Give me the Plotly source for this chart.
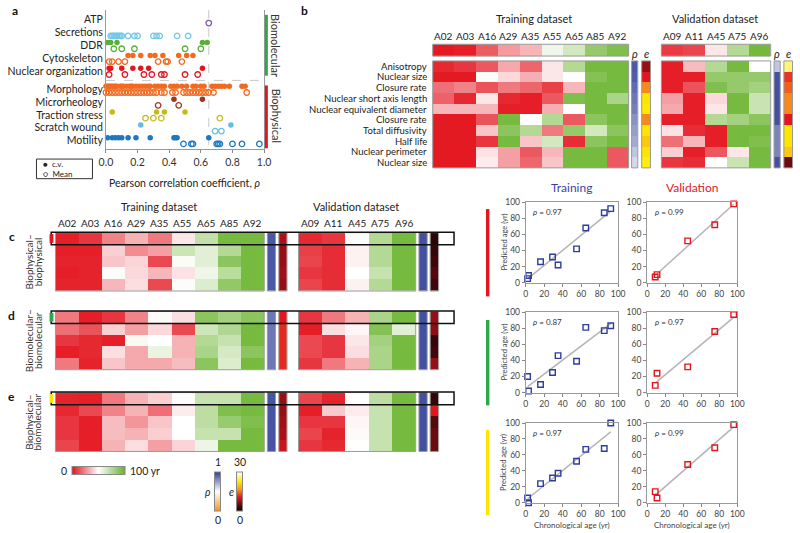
import numpy as np
import plotly.graph_objects as go

FONT = "Lato"
W, H = 800, 533

# ---------------- Panel a data ----------------
a_categories = ["ATP", "Secretions", "DDR", "Cytoskeleton", "Nuclear organization",
                "Morphology", "Microrheology", "Traction stress", "Scratch wound", "Motility"]
a_colors = ["#7e57a6", "#74c7e8", "#5aae3a", "#f26a1f", "#e3151f",
            "#f26a1f", "#a0361e", "#c6b91c", "#62bde5", "#1b78c2"]
cv_atp = []
mean_atp = [0.65]
cv_secretions = []
mean_secretions = [0.03, 0.04, 0.05, 0.06, 0.07, 0.08, 0.09, 0.10, 0.14, 0.18, 0.20, 0.30, 0.32, 0.34, 0.45, 0.52]
cv_ddr = [0.01, 0.03, 0.07, 0.61, 0.64]
mean_ddr = [0.05, 0.10, 0.18, 0.50, 0.60]
cv_cytoskeleton = [0.14, 0.17, 0.22, 0.28, 0.31, 0.36, 0.46, 0.51, 0.55]
mean_cytoskeleton = [0.02, 0.04, 0.08, 0.12, 0.33, 0.38, 0.39, 0.48]
cv_nuclear_org = [0.02, 0.03, 0.10, 0.17, 0.22, 0.27, 0.61]
mean_nuclear_org = [0.02, 0.12, 0.24, 0.29, 0.35, 0.37, 0.50, 0.58]
cv_morphology = [0.00, 0.01, 0.02, 0.03, 0.04, 0.05, 0.06, 0.07, 0.09, 0.10, 0.11, 0.13, 0.15, 0.16,
                 0.17, 0.19, 0.21, 0.23, 0.25, 0.27, 0.28, 0.31, 0.33, 0.35, 0.37, 0.41, 0.43, 0.45,
                 0.48, 0.51, 0.55, 0.57, 0.60, 0.62, 0.67, 0.69, 0.71, 0.73, 0.75, 0.78, 0.86, 0.88]
mean_morphology = [0.00, 0.02, 0.04, 0.06, 0.08, 0.10, 0.12, 0.14, 0.16, 0.18, 0.20, 0.22, 0.24, 0.26,
                   0.28, 0.30, 0.32, 0.35, 0.37, 0.42, 0.44, 0.49, 0.51, 0.53, 0.55, 0.57, 0.59, 0.61,
                   0.63, 0.65, 0.68, 0.89]
cv_microrheology = [0.43, 0.61]
mean_microrheology = [0.33, 0.46]
cv_traction = [0.04, 0.32, 0.37, 0.50]
mean_traction = [0.25, 0.30, 0.35, 0.72]
cv_scratch = [0.22, 0.79]
mean_scratch = [0.69, 0.73]
cv_motility = [0.01, 0.04, 0.06, 0.08, 0.10, 0.14, 0.19, 0.28, 0.43, 0.44, 0.45, 0.65]
mean_motility = [0.49, 0.54, 0.55, 0.70, 0.71, 0.72, 0.80, 0.86, 0.97]

a_cv = [cv_atp, cv_secretions, cv_ddr, cv_cytoskeleton, cv_nuclear_org,
        cv_morphology, cv_microrheology, cv_traction, cv_scratch, cv_motility]
a_mean = [mean_atp, mean_secretions, mean_ddr, mean_cytoskeleton, mean_nuclear_org,
          mean_morphology, mean_microrheology, mean_traction, mean_scratch, mean_motility]
a_row_pos = [0, 1, 2, 3, 4, 5.4, 6.4, 7.4, 8.4, 9.4]

# ---------------- Heatmap data (predicted ages, yr) ----------------
train_labels = ["A02", "A03", "A16", "A29", "A35", "A55", "A65", "A85", "A92"]
train_ages = [2, 3, 16, 29, 35, 55, 65, 85, 92]
val_labels = ["A09", "A11", "A45", "A75", "A96"]
val_ages = [9, 11, 45, 75, 96]

b_features = ["Anisotropy", "Nuclear size", "Closure rate", "Nuclear short axis length",
              "Nuclear equivalent diameter", "Closure rate", "Total diffusivity", "Half life",
              "Nuclear perimeter", "Nuclear size"]
b_train = [
    [5, 8, 15, 32, 18, 45, 75, 95, 95],
    [2, 2, 52, 42, 33, 45, 50, 90, 95],
    [20, 24, 14, 22, 18, 10, 35, 95, 95],
    [17, 5, 45, 5, 3, 15, 92, 95, 78],
    [35, 35, 35, 3, 3, 33, 50, 95, 95],
    [2, 2, 14, 95, 50, 75, 15, 88, 95],
    [2, 2, 38, 88, 75, 22, 85, 65, 88],
    [2, 2, 8, 95, 38, 65, 6, 88, 95],
    [2, 2, 44, 30, 15, 35, 95, 95, 15],
    [2, 2, 46, 30, 18, 38, 95, 95, 15],
]
b_val = [
    [3, 36, 75, 95, 50],
    [3, 3, 85, 85, 85],
    [3, 14, 92, 85, 80],
    [30, 3, 42, 95, 68],
    [32, 3, 45, 95, 68],
    [3, 3, 75, 80, 88],
    [44, 6, 3, 95, 95],
    [20, 35, 3, 95, 92],
    [40, 3, 15, 45, 95],
    [8, 6, 50, 68, 95],
]
b_rho_train = [0.93, 0.92, 0.88, 0.85, 0.83, 0.78, 0.75, 0.72, 0.65, 0.60]
b_e_train = [7, 10.5, 16, 22, 22.5, 16, 22, 20, 22, 23]
b_rho_val = [0.65, 0.95, 0.95, 0.95, 0.95, 0.95, 0.82, 0.82, 0.82, 0.95]
b_e_val = [26, 12, 14, 16, 16, 10.5, 22, 22, 20, 5]

c_train = [
    [3, 8, 24, 34, 22, 45, 70, 95, 95],
    [3, 3, 40, 26, 30, 67, 60, 75, 95],
    [4, 4, 38, 41, 12, 52, 60, 88, 95],
    [3, 4, 51, 42, 35, 44, 55, 73, 95],
    [4, 4, 35, 43, 12, 51, 62, 86, 95],
]
c_val = [
    [5, 8, 51, 75, 95],
    [10, 6, 47, 75, 95],
    [11, 6, 47, 75, 95],
    [8, 6, 50, 69, 95],
    [11, 6, 47, 75, 95],
]
c_rho_train = [0.93, 0.93, 0.93, 0.93, 0.93]
c_e_train = [8, 7, 7, 7.5, 7]
c_rho_val = [0.95, 0.95, 0.95, 0.95, 0.95]
c_e_val = [2, 2.5, 3, 4, 3]

d_train = [
    [22, 3, 8, 24, 49, 43, 88, 80, 88],
    [20, 14, 40, 30, 42, 12, 66, 76, 95],
    [8, 5, 3, 53, 50, 34, 75, 69, 95],
    [3, 5, 43, 32, 57, 34, 78, 64, 88],
    [22, 4, 38, 32, 32, 36, 88, 62, 95],
]
d_val = [
    [8, 22, 34, 78, 95],
    [3, 43, 48, 90, 60],
    [12, 8, 45, 80, 95],
    [12, 8, 43, 78, 95],
    [8, 22, 34, 78, 95],
]
d_rho_train = [0.85, 0.85, 0.85, 0.85, 0.85]
d_e_train = [10.5, 11.5, 11.5, 11.5, 11.5]
d_rho_val = [0.95, 0.95, 0.95, 0.95, 0.95]
d_e_val = [7, 6.5, 2.5, 3, 7]

e_train = [
    [4, 3, 22, 34, 40, 51, 69, 69, 95],
    [5, 12, 24, 34, 20, 46, 72, 92, 95],
    [8, 3, 36, 28, 38, 50, 72, 84, 92],
    [8, 3, 36, 34, 40, 50, 69, 69, 95],
    [11, 3, 34, 43, 30, 41, 56, 95, 95],
]
e_val = [
    [11, 4, 50, 72, 95],
    [3, 39, 46, 69, 95],
    [8, 8, 48, 69, 95],
    [11, 4, 49, 69, 95],
    [8, 5, 50, 69, 95],
]
e_rho_train = [0.94, 0.94, 0.94, 0.94, 0.94]
e_e_train = [7, 7, 7.5, 8, 9.5]
e_rho_val = [0.95, 0.95, 0.95, 0.95, 0.95]
e_e_val = [2.5, 10.5, 4, 5, 5]

# ---------------- Scatter data ----------------
train_chrono = [2, 3, 16, 29, 35, 55, 65, 85, 92]
val_chrono = [9, 11, 45, 75, 96]
c_train_pred = [5, 9, 26, 32, 22, 42, 68, 87, 92]
c_val_pred = [7, 10, 52, 72, 98]
d_train_pred = [20, 2, 10, 25, 46, 39, 81, 77, 83]
d_val_pred = [9, 24, 32, 76, 97]
e_train_pred = [6, 0, 24, 31, 37, 52, 67, 68, 100]
e_val_pred = [14, 6, 48, 69, 98]
rho_train_text = ["0.97", "0.87", "0.97"]
rho_val_text = ["0.99", "0.97", "0.99"]

# ---------------- Styles ----------------
AGE_CS = [[0, "#e3101a"], [0.5, "#ffffff"], [1, "#68b22b"]]
RHO_CS = [[0, "#f7941d"], [0.5, "#ffffff"], [1, "#2e3d96"]]
E_CS = [[0, "#000000"], [0.35, "#e3151f"], [0.55, "#f7941d"], [0.75, "#ffeb00"], [1, "#ffffff"]]
BORDER = "#9a9a9a"
BLUE = "#2f3d9c"
RED = "#e3151f"

fig = go.Figure()
shapes = []
annotations = []


def txt(x, y, s, size=10, color="#222", xanchor="center", yanchor="middle", angle=0,
        xref="x", yref="y", bold=False, align="center"):
    if bold:
        s = "<b>" + s + "</b>"
    annotations.append(dict(x=x, y=y, xref=xref, yref=yref, text=s, showarrow=False,
                            font=dict(family=FONT, size=size, color=color),
                            xanchor=xanchor, yanchor=yanchor, textangle=angle,
                            borderpad=0, align=align))


def rect(x0, y0, x1, y1, line="#9a9a9a", width=1, fill=None, xref="x", yref="y"):
    d = dict(type="rect", x0=x0, y0=y0, x1=x1, y1=y1, xref=xref, yref=yref,
             line=dict(color=line, width=width))
    if fill:
        d["fillcolor"] = fill
        d["line"] = dict(width=0)
    shapes.append(d)


def hm(z, x_left, x_right, y_top, y_bottom, cs, zmin, zmax, border=True, colorbar=None):
    z = np.asarray(z, dtype=float)
    nrows, ncols = z.shape
    dx = (x_right - x_left) / ncols
    dy = (y_bottom - y_top) / nrows
    fig.add_trace(go.Heatmap(z=z, x0=x_left + dx / 2, dx=dx, y0=y_top + dy / 2, dy=dy,
                             colorscale=cs, zmin=zmin, zmax=zmax,
                             showscale=colorbar is not None,
                             colorbar=colorbar if colorbar is not None else {},
                             xaxis="x", yaxis="y", hoverinfo="skip"))
    if border:
        rect(x_left, y_top, x_right, y_bottom, line=BORDER, width=1)


def col(v):
    return [[x] for x in v]


# ---------------- Panel a ----------------
for i, cat in enumerate(a_categories):
    cv = a_cv[i]
    mn = a_mean[i]
    if cv:
        fig.add_trace(go.Scatter(x=cv, y=[a_row_pos[i] - 0.22] * len(cv), mode="markers",
                                 marker=dict(symbol="circle", size=5.5, color=a_colors[i],
                                             line=dict(width=0)),
                                 xaxis="x2", yaxis="y2", cliponaxis=False, hoverinfo="skip"))
    if mn:
        fig.add_trace(go.Scatter(x=mn, y=[a_row_pos[i] + 0.26] * len(mn), mode="markers",
                                 marker=dict(symbol="circle-open", size=5.5, color=a_colors[i],
                                             line=dict(width=1.3, color=a_colors[i])),
                                 xaxis="x2", yaxis="y2", cliponaxis=False, hoverinfo="skip"))

shapes.append(dict(type="line", xref="x2", yref="y2", x0=0.65, x1=0.65, y0=-0.76, y1=10.05,
                   line=dict(color="#c8c8c8", width=1, dash="dash"), layer="below"))
shapes.append(dict(type="line", xref="x2", yref="y2", x0=0, x1=1, y0=4.72, y1=4.72,
                   line=dict(color="#c8c8c8", width=1, dash="dash"), layer="below"))
rect(262.5, 10, 265.5, 72, fill="#2aa84a")
rect(262.5, 82, 265.5, 146, fill="#e3151f")
txt(274, 41, "Biomolecular", size=11, angle=90, color="#333")
txt(274, 113, "Biophysical", size=11, angle=90, color="#333")
rect(30, 157, 87, 177, line="#333", width=1)
txt(36, 167, "●  c.v.<br>○  Mean", size=8, xanchor="left", color="#222", align="left")
txt(181, 181, "Pearson correlation coefficient, <i>ρ</i>", size=10.5, color="#222")

# ---------------- Panel b ----------------
BTX0, BTX1, BVX0, BVX1 = 433.3, 632.7, 666.0, 777.3
BY0, BY1 = 57.0, 166.0
hm([train_ages], BTX0, BTX1, 40, 52, AGE_CS, 0, 100)
hm([val_ages], BVX0, BVX1, 40, 52, AGE_CS, 0, 100)
hm(b_train, BTX0, BTX1, BY0, BY1, AGE_CS, 0, 100)
hm(b_val, BVX0, BVX1, BY0, BY1, AGE_CS, 0, 100)
hm(col(b_rho_train), 635.7, 642.0, BY0, BY1, RHO_CS, 0, 1)
hm(col(b_e_train), 646.0, 655.0, BY0, BY1, E_CS, 0, 30)
hm(col(b_rho_val), 780.7, 787.0, BY0, BY1, RHO_CS, 0, 1)
hm(col(b_e_val), 790.7, 799.5, BY0, BY1, E_CS, 0, 30)
rowh = (BY1 - BY0) / len(b_features)
for i, lab in enumerate(b_features):
    txt(428, BY0 + (i + 0.5) * rowh, lab, size=9.5, xanchor="right", color="#222")
cw = (BTX1 - BTX0) / len(train_labels)
for i, lab in enumerate(train_labels):
    txt(BTX0 + (i + 0.5) * cw, 32, lab, size=10)
cw = (BVX1 - BVX0) / len(val_labels)
for i, lab in enumerate(val_labels):
    txt(BVX0 + (i + 0.5) * cw, 32, lab, size=10)
txt(536, 14, "Training dataset", size=11)
txt(721, 14, "Validation dataset", size=11)
txt(639, 49, "<i>ρ</i>", size=11)
txt(651, 49, "<i>e</i>", size=11)
txt(784, 49, "<i>ρ</i>", size=11)
txt(795, 49, "<i>e</i>", size=11)

# ---------------- Panels c, d, e ----------------
TX0, TX1 = 49.3, 261.7
VX0, VX1 = 296.7, 416.0
panels = [
    (c_train, c_val, c_rho_train, c_e_train, c_rho_val, c_e_val, 232.0, 291.5, "#e3151f",
     "Biophysical–", "biophysical", "c"),
    (d_train, d_val, d_rho_train, d_e_train, d_rho_val, d_e_val, 312.3, 371.7, "#2aa84a",
     "Biomolecular–", "biomolecular", "d"),
    (e_train, e_val, e_rho_train, e_e_train, e_rho_val, e_e_val, 395.0, 455.0, "#ffe500",
     "Biophysical–", "biomolecular", "e"),
]
for k, (tr, va, rt, et, rv, ev, y0, y1, mk, l1, l2, plab) in enumerate(panels):
    cb_age = cb_rho = cb_e = None
    if k == 0:
        cb_age = dict(orientation="h", x=92.7 / W, xanchor="center", y=1 - 475 / H,
                      yanchor="middle", lenmode="pixels", len=53, thicknessmode="pixels",
                      thickness=8, xpad=0, ypad=0, outlinecolor="#888", outlinewidth=1,
                      showticklabels=False, ticks="")
        cb_rho = dict(x=215 / W, xanchor="center", y=1 - 495.5 / H, yanchor="middle",
                      lenmode="pixels", len=39, thicknessmode="pixels", thickness=6,
                      xpad=0, ypad=0, outlinecolor="#888", outlinewidth=1,
                      showticklabels=False, ticks="")
        cb_e = dict(x=237 / W, xanchor="center", y=1 - 495.5 / H, yanchor="middle",
                    lenmode="pixels", len=39, thicknessmode="pixels", thickness=6,
                    xpad=0, ypad=0, outlinecolor="#888", outlinewidth=1,
                    showticklabels=False, ticks="")
    hm(tr, TX0, TX1, y0, y1, AGE_CS, 0, 100, colorbar=cb_age)
    hm(col(rt), 265.0, 273.3, y0, y1, RHO_CS, 0, 1, colorbar=cb_rho)
    hm(col(et), 276.7, 285.0, y0, y1, E_CS, 0, 30, colorbar=cb_e)
    hm(va, VX0, VX1, y0, y1, AGE_CS, 0, 100)
    hm(col(rv), 419.3, 427.7, y0, y1, RHO_CS, 0, 1)
    hm(col(ev), 430.7, 439.3, y0, y1, E_CS, 0, 30)
    rh = (y1 - y0) / len(tr)
    rect(45, y0 - 0.5, 455, y0 + rh + 0.5, line="#111", width=1.5)
    rect(43.3, y0 + 1.5, 47.3, y0 + rh - 1.5, fill=mk)
    txt(22, (y0 + y1) / 2, l1, size=10, angle=-90, color="#333")
    txt(31, (y0 + y1) / 2, l2, size=10, angle=-90, color="#333")
    txt(5, y0 + 4, plab, size=12, bold=True, color="#111")

cw = (TX1 - TX0) / len(train_labels)
for i, lab in enumerate(train_labels):
    txt(TX0 + (i + 0.5) * cw, 222, lab, size=10)
cw = (VX1 - VX0) / len(val_labels)
for i, lab in enumerate(val_labels):
    txt(VX0 + (i + 0.5) * cw, 222, lab, size=10)
txt(155, 205, "Training dataset", size=11)
txt(355, 205, "Validation dataset", size=11)

# legend labels
txt(58, 475, "0", size=10.5)
txt(124, 475, "100 yr", size=10.5, xanchor="left")
txt(215, 466, "1", size=10.5)
txt(215, 525, "0", size=10.5)
txt(237, 466, "30", size=10.5)
txt(237, 525, "0", size=10.5)
txt(205, 496, "<i>ρ</i>", size=10.5)
txt(229, 496, "<i>e</i>", size=10.5)

# panel labels
txt(4, 6, "a", size=12, bold=True, color="#111", xanchor="left")
txt(298, 6, "b", size=12, bold=True, color="#111", xanchor="left")

# ---------------- Scatter plots ----------------
sc_x = {"train": (528.0, 622.0), "val": (651.5, 743.3)}
sc_rows = [(201.0, 283.0), (313.0, 395.0), (426.0, 507.3)]
train_preds = [c_train_pred, d_train_pred, e_train_pred]
val_preds = [c_val_pred, d_val_pred, e_val_pred]
bar_cols = ["#e3151f", "#2aa84a", "#ffe500"]
bar_y = [(208, 297), (321, 408), (433, 520)]

layout_axes = {}
ax_n = 3
for r, (yt, yb) in enumerate(sc_rows):
    for kind, preds, color, rtxt in (("train", train_preds[r], BLUE, rho_train_text[r]),
                                     ("val", val_preds[r], RED, rho_val_text[r])):
        xs = train_chrono if kind == "train" else val_chrono
        xl, xr = sc_x[kind]
        xa, ya = f"x{ax_n}", f"y{ax_n}"
        common = dict(range=[0, 100], tickvals=[0, 20, 40, 60, 80, 100], ticks="outside",
                      ticklen=3, tickcolor="#888", showline=True, mirror=True,
                      linecolor="#999", linewidth=1, showgrid=False, zeroline=False,
                      tickfont=dict(family=FONT, size=8.5, color="#444"), fixedrange=True)
        layout_axes[f"xaxis{ax_n}"] = dict(domain=[xl / W, xr / W], anchor=ya, **common)
        layout_axes[f"yaxis{ax_n}"] = dict(domain=[1 - yb / H, 1 - yt / H], anchor=xa, **common)
        coef = np.polyfit(xs, preds, 1)
        fx = [min(xs), max(xs)]
        fy = list(np.polyval(coef, fx))
        fig.add_trace(go.Scatter(x=fx, y=fy, mode="lines", line=dict(color="#b4b4b4", width=1.5),
                                 xaxis=xa, yaxis=ya, hoverinfo="skip"))
        fig.add_trace(go.Scatter(x=xs, y=preds, mode="markers",
                                 marker=dict(symbol="square-open", size=5.5, color=color,
                                             line=dict(width=1.4, color=color)),
                                 xaxis=xa, yaxis=ya, cliponaxis=False, hoverinfo="skip"))
        annotations.append(dict(x=6, y=88, xref=xa, yref=ya, text=f"<i>ρ</i> = {rtxt}",
                                showarrow=False, xanchor="left", yanchor="middle",
                                font=dict(family=FONT, size=8, color="#333")))
        ax_n += 1
    rect(487.5, bar_y[r][0], 491, bar_y[r][1], fill=bar_cols[r])
    txt(506, (yt + yb) / 2, "Predicted age (yr)", size=7.5, angle=-90, color="#444")

txt(575, 186, "Training", size=12, color="#3d3f9e")
txt(697, 186, "Validation", size=12, color=RED)
txt(575, 529.5, "Chronological age (yr)", size=8, color="#444")
txt(697, 529.5, "Chronological age (yr)", size=8, color="#444")

fig.update_layout(
    width=W, height=H, margin=dict(l=0, r=0, t=0, b=0),
    paper_bgcolor="white", plot_bgcolor="rgba(0,0,0,0)",
    showlegend=False, font=dict(family=FONT),
    xaxis=dict(domain=[0, 1], range=[0, W], visible=False, fixedrange=True),
    yaxis=dict(domain=[0, 1], range=[H, 0], visible=False, fixedrange=True),
    xaxis2=dict(domain=[100.7 / W, 261.7 / W], anchor="y2", range=[0, 1],
                tickvals=[0, 0.2, 0.4, 0.6, 0.8, 1.0],
                ticktext=["0.0", "0.2", "0.4", "0.6", "0.8", "1.0"],
                ticks="outside", ticklen=3, tickcolor="#888", showline=True, linecolor="#999",
                showgrid=False, zeroline=False,
                tickfont=dict(family=FONT, size=10.5, color="#333"), fixedrange=True),
    yaxis2=dict(domain=[1 - 146.7 / H, 1 - 5 / H], anchor="x2", range=[10.05, -0.76],
                tickvals=a_row_pos, ticktext=a_categories, ticks="", showline=True,
                mirror=True, linecolor="#999", showgrid=False, zeroline=False,
                tickfont=dict(family=FONT, size=10.5, color="#222"), fixedrange=True),
    shapes=shapes, annotations=annotations,
    **layout_axes,
)

fig.write_html("out.html", config={"displayModeBar": False, "staticPlot": True},
               post_script="document.body.style.margin='0px';")
